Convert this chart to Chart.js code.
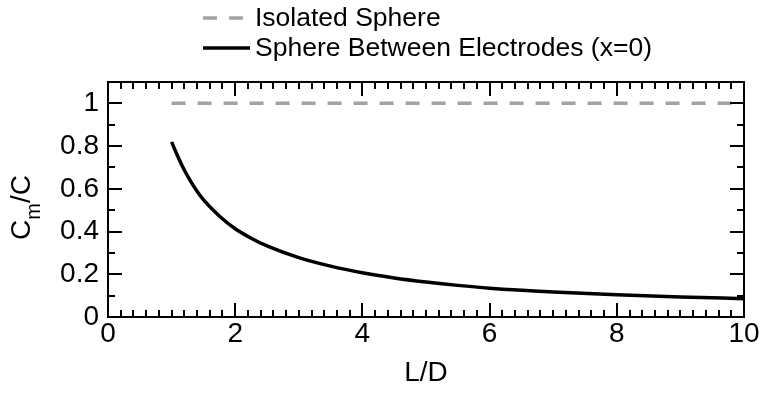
<!DOCTYPE html>
<html>
<head>
<meta charset="utf-8">
<script src="https://cdn.jsdelivr.net/npm/chart.js@4.4.1/dist/chart.umd.min.js"></script>
<style>
  html, body { margin: 0; padding: 0; background: #fff; }
  #wrap { width: 763px; height: 395px; }
</style>
</head>
<body>
<div id="wrap"><canvas id="cm_chart"></canvas></div>
<script>
// L/D values and normalised capacitance C_m/C
const ratioLD = [1, 1.1, 1.2, 1.3, 1.4, 1.5, 1.75, 2, 2.25, 2.5, 3, 3.5, 4, 4.5, 5, 5.5, 6, 7, 8, 9, 10];
const betweenElectrodes = [0.82, 0.75, 0.688, 0.635, 0.589, 0.549, 0.473, 0.413, 0.369, 0.333, 0.278, 0.238, 0.207, 0.183, 0.164, 0.148, 0.135, 0.117, 0.104, 0.094, 0.086];
const isolatedLD = [1, 10];
const isolatedSphere = [1, 1];

const xTicks = [0, 2, 4, 6, 8, 10];
const yTicks = [0, 0.2, 0.4, 0.6, 0.8, 1];
const xMinorStep = 0.2;
const yMinorStep = 0.1;

const FONT = "'Liberation Sans', Arial, sans-serif";
const AXIS_SIZE = 28;
const LEGEND_SIZE = 26.5;

const toPoints = (xs, ys) => xs.map((x, i) => ({ x: x, y: ys[i] }));

// box around the plot with inward ticks on all four sides
const frameTicks = {
  id: "frameTicks",
  afterDatasetsDraw(chart) {
    const { ctx, chartArea: a, scales } = chart;
    const xs = scales.x, ys = scales.y;
    ctx.save();
    ctx.strokeStyle = "#000";
    ctx.lineWidth = 2;
    ctx.beginPath();
    const tick = (x1, y1, x2, y2) => { ctx.moveTo(x1, y1); ctx.lineTo(x2, y2); };
    for (let v = xs.min; v <= xs.max + 1e-9; v += xMinorStep) {
      const major = xTicks.some(t => Math.abs(t - v) < 1e-6);
      const len = major ? 14 : 7;
      const px = Math.round(xs.getPixelForValue(v));
      tick(px, a.bottom, px, a.bottom - len);
      tick(px, a.top, px, a.top + len);
    }
    for (let v = ys.min; v <= ys.max + 1e-9; v += yMinorStep) {
      const major = yTicks.some(t => Math.abs(t - v) < 1e-6);
      const len = major ? 14 : 7;
      const py = Math.round(ys.getPixelForValue(v));
      tick(a.left, py, a.left + len, py);
      tick(a.right, py, a.right - len, py);
    }
    ctx.stroke();
    ctx.strokeRect(a.left, a.top, a.right - a.left, a.bottom - a.top);
    ctx.restore();
  }
};

// stacked legend above the plot and the C_m/C axis title with subscript
const annotations = {
  id: "annotations",
  afterDraw(chart) {
    const { ctx, chartArea: a } = chart;
    ctx.save();
    ctx.font = LEGEND_SIZE + "px " + FONT;
    ctx.textBaseline = "middle";
    ctx.fillStyle = "#000";
    const rows = [18, 48];
    chart.data.datasets.forEach((ds, i) => {
      const y = rows[i];
      ctx.save();
      ctx.strokeStyle = ds.borderColor;
      ctx.lineWidth = ds.borderWidth;
      ctx.setLineDash(ds.borderDash || []);
      ctx.beginPath();
      ctx.moveTo(203, y);
      ctx.lineTo(250, y);
      ctx.stroke();
      ctx.restore();
      ctx.fillText(ds.label, 255, y + 1);
    });

    ctx.translate(22, (a.top + a.bottom) / 2 + 8);
    ctx.rotate(-Math.PI / 2);
    const big = AXIS_SIZE + "px " + FONT, small = "20px " + FONT;
    ctx.font = big;
    const wC = ctx.measureText("C").width;
    const wRest = ctx.measureText("/C").width;
    ctx.font = small;
    const wM = ctx.measureText("m").width;
    let x = -(wC + wM + wRest) / 2;
    ctx.textAlign = "left";
    ctx.font = big;
    ctx.fillText("C", x, 0);
    x += wC;
    ctx.font = small;
    ctx.fillText("m", x, 12);
    x += wM;
    ctx.font = big;
    ctx.fillText("/C", x, 0);
    ctx.restore();
  }
};

new Chart(document.getElementById("cm_chart"), {
  type: "line",
  data: {
    datasets: [
      {
        label: "Isolated Sphere",
        data: toPoints(isolatedLD, isolatedSphere),
        borderColor: "#a3a3a3",
        borderWidth: 3.5,
        borderDash: [14, 12],
        pointRadius: 0,
      },
      {
        label: "Sphere Between Electrodes (x=0)",
        data: toPoints(ratioLD, betweenElectrodes),
        borderColor: "#000000",
        borderWidth: 3.5,
        cubicInterpolationMode: "monotone",
        pointRadius: 0,
      },
    ],
  },
  options: {
    responsive: true,
    maintainAspectRatio: false,
    animation: false,
    layout: { padding: { top: 82, right: 19, left: 0, bottom: 0 } },
    plugins: { legend: { display: false }, title: { display: false }, tooltip: { enabled: false } },
    scales: {
      x: {
        type: "linear",
        min: 0,
        max: 10,
        afterBuildTicks: (s) => { s.ticks = xTicks.map(v => ({ value: v })); },
        afterFit: (s) => { s.height = 78; },
        grid: { display: false, drawTicks: false },
        border: { display: false },
        ticks: { color: "#000", font: { family: FONT, size: AXIS_SIZE }, padding: 0, maxRotation: 0 },
        title: { display: true, text: "L/D", color: "#000", font: { family: FONT, size: AXIS_SIZE }, padding: { top: 0, bottom: 5 } },
      },
      y: {
        type: "linear",
        min: 0,
        max: 1.1,
        afterBuildTicks: (s) => { s.ticks = yTicks.map(v => ({ value: v })); },
        afterFit: (s) => { s.width = 108; },
        grid: { display: false, drawTicks: false },
        border: { display: false },
        ticks: {
          color: "#000",
          font: { family: FONT, size: AXIS_SIZE },
          padding: 9,
          callback: (v) => String(v),
        },
      },
    },
  },
  plugins: [frameTicks, annotations],
});
</script>
</body>
</html>
